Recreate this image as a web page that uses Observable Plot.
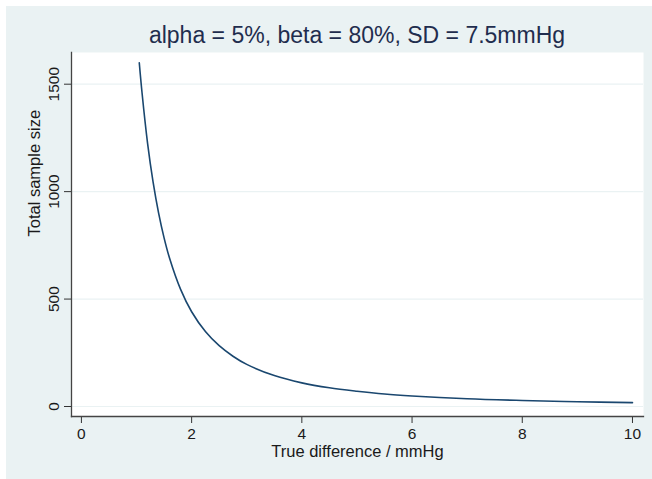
<!DOCTYPE html>
<html>
<head>
<meta charset="utf-8">
<script src="https://cdn.jsdelivr.net/npm/d3@7"></script>
<script src="https://cdn.jsdelivr.net/npm/@observablehq/plot@0.6"></script>
<style>
  html, body { margin: 0; padding: 0; background: #ffffff; }
  #wrap { position: relative; width: 652px; height: 479px; overflow: hidden; font-family: "Liberation Sans", Arial, sans-serif; }
  #panel { position: absolute; left: 6px; top: 6px; right: 0; bottom: 0; background: #EAF2F3; }
  #title { position: absolute; left: 71px; width: 572px; top: 24px; text-align: center; font-size: 23px; line-height: 1; color: #1f2d4e; white-space: nowrap; }
  #chart { position: absolute; left: 0; top: 0; }
</style>
</head>
<body>
<div id="wrap">
  <div id="panel"></div>
  <div id="title">alpha = 5%, beta = 80%, SD = 7.5mmHg</div>
  <div id="chart"></div>
</div>
<script>
// True difference (mmHg)
const difference = [1.05, 1.1, 1.2, 1.3, 1.4, 1.5, 1.6, 1.8, 2.0, 2.25, 2.5, 2.75, 3.0, 3.5, 4.0, 4.5, 5.0, 5.5, 6.0, 7.0, 8.0, 9.0, 10.0];
// Total sample size read at each difference
const sampleSize = [1600, 1460, 1226, 1045, 901, 785, 690, 545, 441, 349, 283, 234, 196, 144, 110, 87, 71, 58, 49, 36, 28, 22, 18];
const xTicks = [0, 2, 4, 6, 8, 10];
const yTicks = [0, 500, 1000, 1500];
const xLabel = "True difference / mmHg";
const yLabel = "Total sample size";

const data = difference.map((d, i) => ({x: d, y: sampleSize[i]}));

const chart = Plot.plot({
  width: 652,
  height: 479,
  marginLeft: 71,
  marginRight: 9,
  marginTop: 52,
  marginBottom: 63,
  style: {background: "transparent", fontFamily: "'Liberation Sans', Arial, sans-serif", color: "#1a1a1a"},
  x: {domain: [-0.18, 10.2]},
  y: {domain: [-46.5, 1647.5]},
  marks: [
    Plot.frame({fill: "white", stroke: "none"}),
    Plot.gridY(yTicks, {stroke: "#EAF2F3", strokeOpacity: 1, strokeWidth: 1.2}),
    Plot.line(data, {x: "x", y: "y", stroke: "#1a476f", strokeWidth: 1.6, curve: "catmull-rom"}),
    Plot.axisX(xTicks, {tickSize: 7, tickPadding: 4, fontSize: 15.5, label: null, stroke: "#333", tickFormat: d => String(d)}),
    Plot.axisY(yTicks, {tickSize: 7, tickPadding: 5.5, tickRotate: -90, fontSize: 15.5, label: null, stroke: "#333", tickFormat: d => String(d)}),
    Plot.frame({anchor: "left", stroke: "#444", strokeWidth: 1.3}),
    Plot.frame({anchor: "bottom", stroke: "#444", strokeWidth: 1.3}),
    Plot.text([xLabel], {frameAnchor: "bottom", lineAnchor: "top", dy: 29, fontSize: 16.5, fill: "#1a1a1a"}),
    Plot.text([yLabel], {frameAnchor: "left", lineAnchor: "bottom", rotate: -90, dx: -31.7, dy: 2, fontSize: 16.5, fill: "#1a1a1a"})
  ]
});
document.getElementById("chart").appendChild(chart);
</script>
</body>
</html>
